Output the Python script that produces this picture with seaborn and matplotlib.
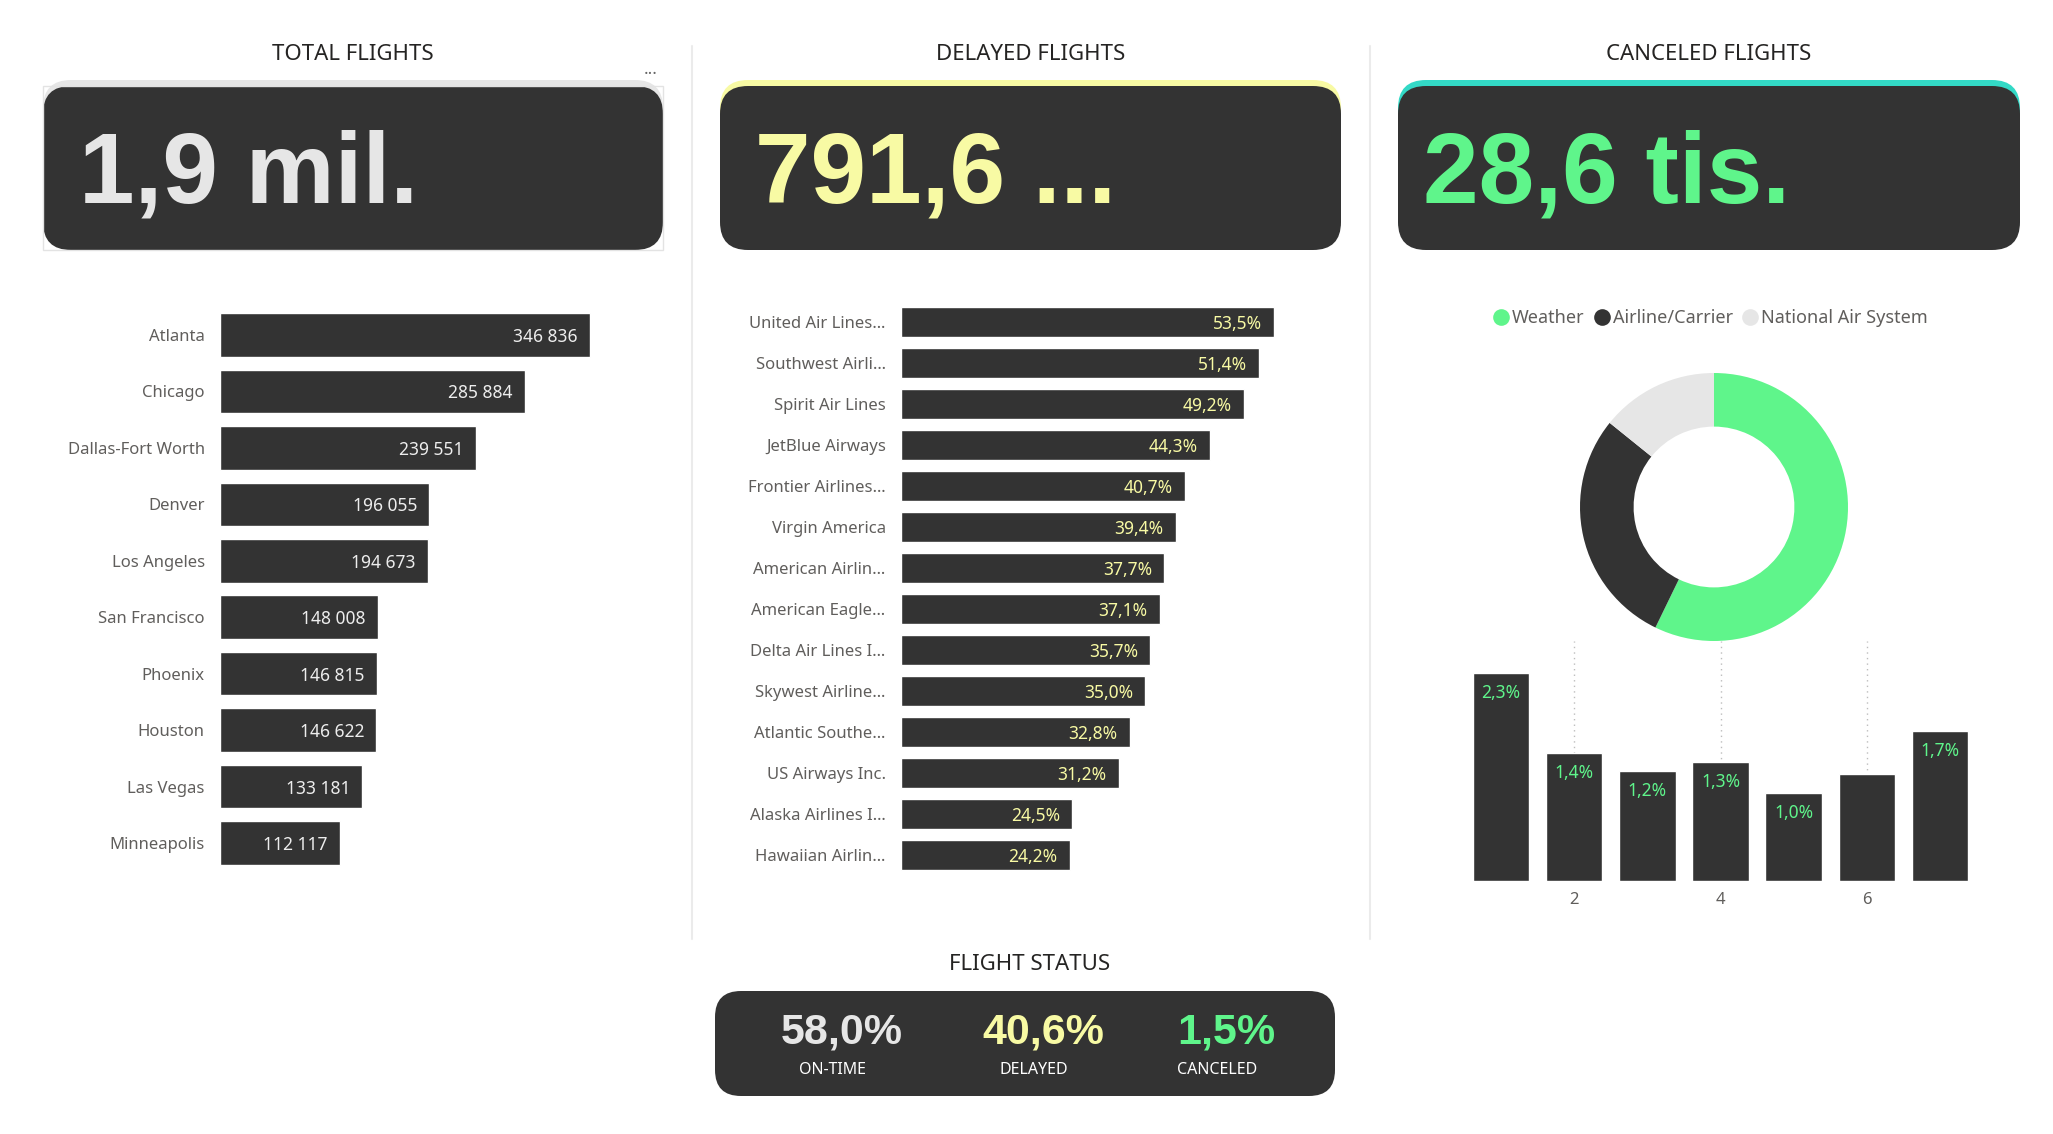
import matplotlib
matplotlib.use("Agg")
import matplotlib.pyplot as plt
from matplotlib.patches import FancyBboxPatch, Rectangle
from matplotlib.lines import Line2D
import seaborn as sns

# --- data ---
kpi_titles = ["TOTAL FLIGHTS", "DELAYED FLIGHTS", "CANCELED FLIGHTS"]
kpi_values = ["1,9 mil.", "791,6 ...", "28,6 tis."]

cities = ["Atlanta", "Chicago", "Dallas-Fort Worth", "Denver", "Los Angeles",
          "San Francisco", "Phoenix", "Houston", "Las Vegas", "Minneapolis"]
city_flights = [346836, 285884, 239551, 196055, 194673,
                148008, 146815, 146622, 133181, 112117]

airlines = ["United Air Lines…", "Southwest Airli…", "Spirit Air Lines", "JetBlue Airways",
            "Frontier Airlines…", "Virgin America", "American Airlin…", "American Eagle…",
            "Delta Air Lines I…", "Skywest Airline…", "Atlantic Southe…", "US Airways Inc.",
            "Alaska Airlines I…", "Hawaiian Airlin…"]
delay_pct = [53.5, 51.4, 49.2, 44.3, 40.7, 39.4, 37.7, 37.1, 35.7, 35.0, 32.8, 31.2, 24.5, 24.2]

cancel_reasons = ["Weather", "Airline/Carrier", "National Air System"]
cancel_share = [57.2, 28.6, 14.2]

months = [1, 2, 3, 4, 5, 6, 7]
cancel_rate = [2.30, 1.41, 1.21, 1.31, 0.97, 1.18, 1.66]
cancel_rate_labels = ["2,3%", "1,4%", "1,2%", "1,3%", "1,0%", "", "1,7%"]
month_ticks = [2, 4, 6]

status_values = ["58,0%", "40,6%", "1,5%"]
status_labels = ["ON-TIME", "DELAYED", "CANCELED"]

# --- style ---
DARK = "#333333"
GREEN = "#5FF58B"
YELLOW = "#F8FAA4"
LIGHT = "#E6E6E6"
GREYTXT = "#605E5C"
TITLE = "#252423"

sns.set_style("white")
plt.rcParams["font.family"] = ["Noto Sans", "DejaVu Sans"]
BIG = ["Liberation Sans", "DejaVu Sans"]

W, H = 2053, 1134
fig = plt.figure(figsize=(W / 100, H / 100), dpi=100, facecolor="white")


def px_axes(x0, y0, x1, y1):
    return fig.add_axes([x0 / W, 1 - y1 / H, (x1 - x0) / W, (y1 - y0) / H])


bg = fig.add_axes([0, 0, 1, 1])
bg.set_xlim(0, W)
bg.set_ylim(H, 0)
bg.axis("off")


def card(x0, y0, x1, y1, accent=None, r=28):
    if accent:
        bg.add_patch(FancyBboxPatch((x0, y0 - 6), x1 - x0, y1 - y0,
                                    boxstyle=f"round,pad=0,rounding_size={r}", fc=accent, ec="none"))
    bg.add_patch(FancyBboxPatch((x0, y0), x1 - x0, y1 - y0,
                                boxstyle=f"round,pad=0,rounding_size={r}", fc=DARK, ec="none"))


# separators
for sx in [692, 1370]:
    bg.plot([sx, sx], [46, 939], color="#EBEBEB", lw=1.5)

# KPI cards
card_x = [(43, 663), (720, 1341), (1398, 2020)]
text_x = [79, 755, 1423]
accents = [LIGHT, YELLOW, "#33D9C6"]
val_colors = [LIGHT, YELLOW, GREEN]
for (x0, x1), tx, t, v, acc, vc in zip(card_x, text_x, kpi_titles, kpi_values, accents, val_colors):
    bg.text((x0 + x1) / 2, 54, t, ha="center", va="center", fontsize=16, color=TITLE)
    card(x0, 86, x1, 250, accent=acc)
    bg.text(tx, 203, v, ha="left", va="baseline", fontsize=72,
            fontweight="bold", color=vc, family=BIG)
bg.add_patch(Rectangle((43, 86), 620, 164, fill=False, ec="#E3E3E3", lw=1))
bg.text(651, 70, "...", ha="center", va="center", fontsize=12, color="#666666")

# --- total flights by city ---
ax1 = px_axes(220, 306.8, 663, 871.2)
sns.barplot(x=city_flights, y=cities, orient="h", color=DARK, width=0.77,
            saturation=1, ax=ax1)
ax1.set_xlim(0, 415300)
for i, v in enumerate(city_flights):
    ax1.annotate(f"{v:,}".replace(",", " "), (v, i), xytext=(-12, 0), textcoords="offset pixels",
                 ha="right", va="center_baseline", fontsize=12.5, color="#EDEDED")

# --- delayed share by airline ---
ax2 = px_axes(901, 301.5, 1341, 875.5)
sns.barplot(x=delay_pct, y=airlines, orient="h", color=DARK, width=0.73,
            saturation=1, ax=ax2)
ax2.set_xlim(0, 63.1)
for i, v in enumerate(delay_pct):
    ax2.annotate(f"{v:.1f}%".replace(".", ","), (v, i), xytext=(-12, 0), textcoords="offset pixels",
                 ha="right", va="center_baseline", fontsize=12.5, color=YELLOW)

for ax in (ax1, ax2):
    sns.despine(ax=ax, left=True, bottom=True)
    ax.set_xlabel("")
    ax.set_ylabel("")
    ax.set_xticks([])
    ax.tick_params(axis="y", length=0, pad=11, labelsize=12, labelcolor=GREYTXT)

# --- canceled: donut ---
ax3 = px_axes(1580, 373, 1848, 641)
ax3.pie(cancel_share, colors=[GREEN, DARK, LIGHT], startangle=90, counterclock=False,
        wedgeprops=dict(width=0.4, edgecolor="none"))
ax3.set_xlim(-1, 1)
ax3.set_ylim(-1, 1)
ax3.set_aspect("equal")

handles = [Line2D([], [], marker="o", ls="", markersize=12, color=c, markeredgewidth=0)
           for c in [GREEN, DARK, LIGHT]]
fig.legend(handles, cancel_reasons, loc="center", bbox_to_anchor=(1710 / W, 1 - 318 / H),
           ncol=3, frameon=False, fontsize=13, labelcolor=GREYTXT,
           handletextpad=0.1, columnspacing=0.45, handlelength=1.0)

# --- canceled rate by month ---
ax4 = px_axes(1464.5, 641, 1976.5, 881)
sns.barplot(x=months, y=cancel_rate, native_scale=True, color=DARK, width=0.77,
            saturation=1, ax=ax4)
ax4.set_xlim(0.5, 7.5)
ax4.set_ylim(0, 2.65)
ax4.set_xticks(month_ticks)
ax4.set_xticklabels([str(m) for m in month_ticks])
ax4.set_yticks([])
ax4.set_xlabel("")
ax4.set_ylabel("")
ax4.grid(axis="x", linestyle=(0, (1, 3)), color="#BDBDBD", lw=1)
ax4.set_axisbelow(True)
sns.despine(ax=ax4, left=True, bottom=True)
ax4.tick_params(axis="x", length=0, pad=8, labelsize=12, labelcolor=GREYTXT)
for m, v, lab in zip(months, cancel_rate, cancel_rate_labels):
    ax4.annotate(lab, (m, v), xytext=(0, -20), textcoords="offset pixels",
                 ha="center", va="center", fontsize=12.5, color=GREEN)

# --- flight status ---
bg.text(1030, 964, "FLIGHT STATUS", ha="center", va="center", fontsize=16, color=TITLE)
card(715, 991, 1335, 1096, r=26)
for cx, v, lab, c in zip([842, 1043, 1226], status_values, status_labels, [LIGHT, YELLOW, GREEN]):
    bg.text(cx, 1032, v, ha="center", va="center", fontsize=31, fontweight="bold",
            color=c, family=BIG)
    bg.text(cx - 9, 1070, lab, ha="center", va="center", fontsize=11.5, color="white")

fig.savefig("out.png", dpi=100, facecolor="white")
